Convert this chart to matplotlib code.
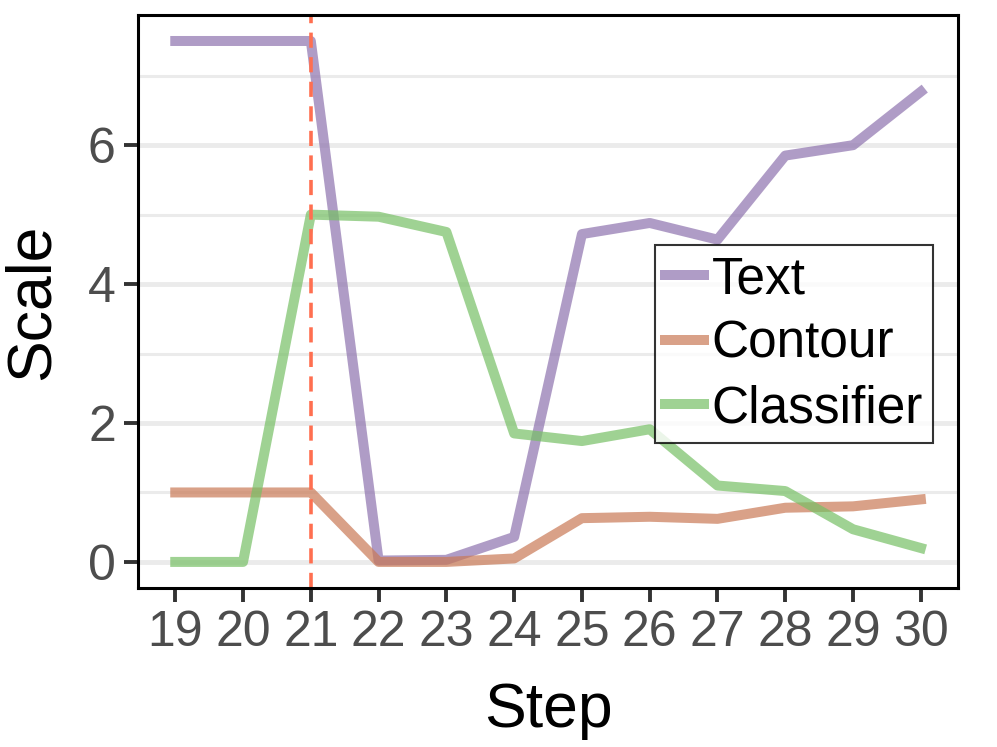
import matplotlib.pyplot as plt
from matplotlib.ticker import MultipleLocator

plt.rcParams['font.family'] = ['Liberation Sans', 'DejaVu Sans']

steps = [19, 20, 21, 22, 23, 24, 25, 26, 27, 28, 29, 30]
text_scale = [7.5, 7.5, 7.5, 0.02, 0.03, 0.36, 4.72, 4.88, 4.64, 5.85, 6.0, 6.77]
contour_scale = [1.0, 1.0, 1.0, 0.0, 0.0, 0.05, 0.63, 0.65, 0.62, 0.78, 0.8, 0.9]
classifier_scale = [0.0, 0.0, 5.0, 4.97, 4.75, 1.85, 1.74, 1.91, 1.1, 1.02, 0.47, 0.2]
switch_step = 21

fig = plt.figure(figsize=(9.97, 7.47), dpi=100)
ax = fig.add_axes([0.1384, 0.2129, 0.8226, 0.7671])

lw = 7.2
ax.plot(steps, text_scale, color='#8e73ae', alpha=0.7, lw=lw, label='Text')
ax.plot(steps, contour_scale, color='#c97956', alpha=0.7, lw=lw, label='Contour')
ax.plot(steps, classifier_scale, color='#77c065', alpha=0.7, lw=lw, label='Classifier')
ax.axvline(switch_step, color='#ff6f50', lw=2.6, ls=(0, (4.2, 2.6)))

ax.set_xlim(18.45, 30.55)
ax.set_ylim(-0.375, 7.875)
ax.set_xticks(steps)
ax.yaxis.set_major_locator(MultipleLocator(2))
ax.yaxis.set_minor_locator(MultipleLocator(1))
ax.grid(axis='y', which='major', color='#ebebeb', lw=3.5)
ax.grid(axis='y', which='minor', color='#ebebeb', lw=2.2)
ax.grid(axis='x', visible=False)
ax.set_axisbelow(True)
ax.tick_params(which='major', length=10, width=2.8, color='#333333',
               labelsize=36, labelcolor='#4d4d4d', pad=6)
ax.tick_params(which='minor', length=0)
for sp in ax.spines.values():
    sp.set_linewidth(2.2)
    sp.set_color('black')

ax.set_xlabel('Step', fontsize=45, labelpad=18)
ax.set_ylabel('Scale', fontsize=45, labelpad=19)

leg = ax.legend(loc='upper left', bbox_to_anchor=(0.6305, 0.5986), fontsize=37,
                frameon=True, fancybox=False, handlelength=0.76, handletextpad=0.14,
                labelspacing=0.3, borderpad=0.2, borderaxespad=0)
leg.get_frame().set_edgecolor('black')
leg.get_frame().set_linewidth(1.5)

fig.savefig('out.png', dpi=100)
